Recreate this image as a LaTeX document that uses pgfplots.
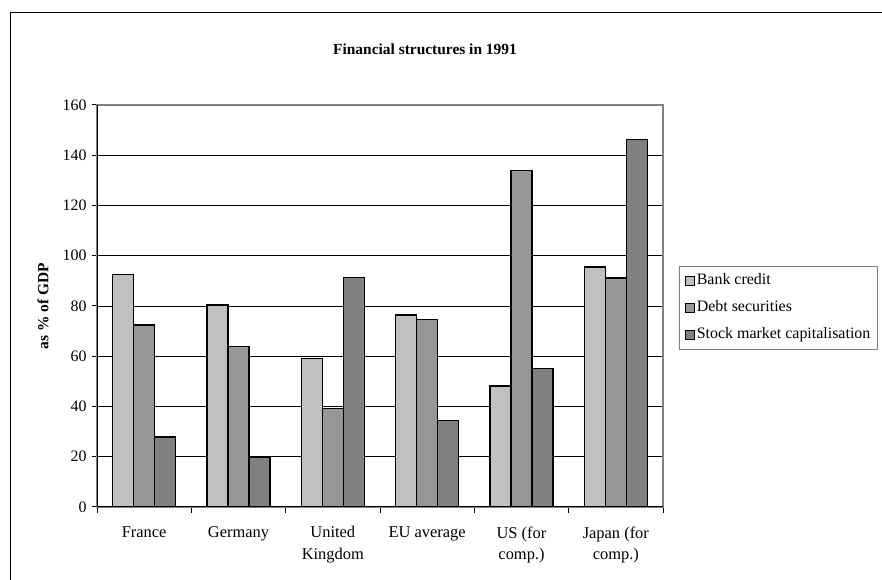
\documentclass[border=0pt]{standalone}
\usepackage{fontspec}
\setmainfont{Liberation Serif}
\usepackage{pgfplots}
\usepackage{pgfplotstable}
\pgfplotsset{compat=1.18}
\definecolor{bankc}{HTML}{C0C0C0}
\definecolor{debtc}{HTML}{969696}
\definecolor{stockc}{HTML}{808080}
\pgfplotstableread{
x bank debt stock
0 92.5 72.4 27.9
1 80.4 63.8 19.6
2 59.2 39.1 91.3
3 76.4 74.6 34.4
4 48.2 134.0 55.2
5 95.5 91.1 146.2
}\datatable
\begin{document}
\begin{tikzpicture}[x=1bp,y=1bp]
\useasboundingbox (0,0) rectangle (882,580);
\draw[black, line width=1bp] (10,0) -- (10,567) -- (882,567);
\node[font=\fontsize{15.5}{18}\selectfont\bfseries] at (425,531) {Financial structures in 1991};
\begin{axis}[
  at={(97bp,73bp)}, anchor=south west,
  width=566bp, height=402bp, scale only axis,
  ybar=0pt, bar width=0.2222,
  xmin=-0.5, xmax=5.5, ymin=0, ymax=160,
  xtick={0,...,5},
  xticklabels={France, Germany, United\\Kingdom, EU average, US (for\\comp.), Japan (for\\comp.)},
  xtick pos=bottom, ytick pos=left,
  major x tick style={draw=none},
  minor xtick={-0.5,0.5,...,5.5},
  minor x tick style={draw=black, line width=1bp},
  ytick={0,20,...,160},
  y tick style={draw=black, line width=1bp},
  tick align=outside,
  major tick length=5bp, minor tick length=6bp,
  ymajorgrids,
  grid style={draw=black, line width=0.8bp},
  axis line style={draw=stockc, line width=1.2bp},
  /pgf/number format/assume math mode=true,
  xticklabel style={font=\fontsize{16.5}{21.5}\selectfont, align=center, anchor=north, yshift=-11bp},
  yticklabel style={font=\fontsize{16}{18}\selectfont, anchor=east, xshift=-2bp},
  ylabel={as \% of GDP},
  ylabel style={font=\fontsize{15.5}{18}\selectfont\bfseries, at={(axis description cs:-0.0954,0.5)}, anchor=center},
  legend style={at={(1.0283,0.5995)}, anchor=north west, draw=stockc, line width=1bp,
    font=\fontsize{16}{19}\selectfont, inner sep=5.5bp, row sep=8.5bp,
    nodes={inner sep=1.5bp, text height=11.5bp, text depth=4bp}},
  legend cell align=left,
]
\addplot[fill=bankc, draw=black, line width=1.3bp, legend image code/.code={\draw[fill=bankc,draw=black,line width=1.3bp] (0bp,-4.5bp) rectangle (9bp,4.5bp);}] table[x=x,y=bank]{\datatable};
\addplot[fill=debtc, draw=black, line width=1.3bp, legend image code/.code={\draw[fill=debtc,draw=black,line width=1.3bp] (0bp,-4.5bp) rectangle (9bp,4.5bp);}] table[x=x,y=debt]{\datatable};
\addplot[fill=stockc, draw=black, line width=1.3bp, legend image code/.code={\draw[fill=stockc,draw=black,line width=1.3bp] (0bp,-4.5bp) rectangle (9bp,4.5bp);}] table[x=x,y=stock]{\datatable};
\legend{Bank credit, Debt securities, Stock market capitalisation}
\draw[black, line width=1.2bp] (rel axis cs:0,0) -- (rel axis cs:1,0);
\draw[black, line width=1.2bp] (rel axis cs:0,0) -- (rel axis cs:0,1);
\end{axis}
\end{tikzpicture}
\end{document}
